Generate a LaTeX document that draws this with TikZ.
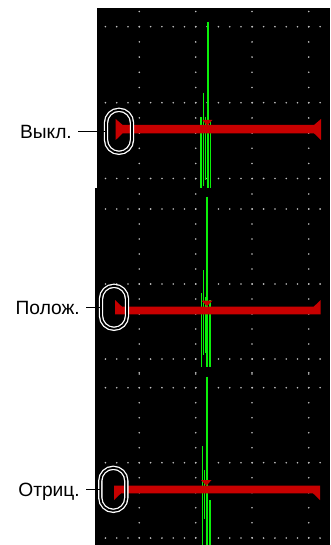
\documentclass[tikz,border=0pt]{standalone}
\usepackage{fontspec}
\setmainfont{Liberation Sans}
\definecolor{scopered}{RGB}{200,0,0}
\definecolor{scopegreen}{RGB}{10,240,10}
\definecolor{dotgray}{RGB}{190,190,190}
\begin{document}
\begin{tikzpicture}[x=1pt,y=-1pt,
  griddot/.style={fill=dotgray},
  trace/.style={draw=scopegreen,line width=1.1pt},
  maintrace/.style={draw=scopegreen,line width=2.1pt},
  gate/.style={fill=scopered},
  gatemark/.style={fill=scopered},
  stad/.style={draw=white,double=black,double distance=1.8pt,line width=1.3pt,
    minimum width=26pt,minimum height=43pt,rounded corners=13pt,inner sep=0pt},
  lbl/.style={font=\fontsize{19.2}{21}\selectfont,inner sep=0pt,anchor=east,
    text height=13.7pt,text depth=0pt},
  leader/.style={draw=black,line width=1.4pt,shorten <=6pt}]
\useasboundingbox (0,0) rectangle (330,545);
\fill[black] (97,8) rectangle (330,188);
\fill[black] (95,188) rectangle (330,545);
% ---- grid dots, panel 1
\foreach \ry in {26.7,102.7,178.5}{\foreach \k in {-3,...,16}{\fill[griddot] ({139.3+11.3*\k},\ry) circle (0.9pt);}}
\foreach \cx in {139.3,195.7,252,308.7}{\foreach \k in {-1,...,10}{\fill[griddot] (\cx,{26.7+15.2*\k}) circle (0.9pt);}}
% ---- panel 2
\foreach \ry in {209,284,359}{\foreach \k in {-3,...,16}{\fill[griddot] ({139.3+11.3*\k},\ry) circle (0.9pt);}}
\foreach \cx in {139.3,195.7,252,308.7}{\foreach \k in {-1,...,11}{\fill[griddot] (\cx,{209+15*\k}) circle (0.9pt);}}
% ---- panel 3
\foreach \ry in {387.7,462.7,538}{\foreach \k in {-3,...,16}{\fill[griddot] ({139.3+11.3*\k},\ry) circle (0.9pt);}}
\foreach \cx in {139.3,195.7,252,308.7}{\foreach \k in {-1,...,10}{\fill[griddot] (\cx,{387.7+15*\k}) circle (0.9pt);}}
% ---- green traces
\draw[maintrace] (207.7,21.7) -- (207.7,188);
\draw[trace] (203.3,92.7) -- (203.3,186);
\draw[trace] (201,117) -- (201,188);
\draw[trace] (205.2,117) -- (205.2,180);
\draw[trace] (210.5,120) -- (210.5,188);
\draw[maintrace] (207.3,196.7) -- (207.3,367);
\draw[trace] (203.3,270) -- (203.3,355);
\draw[trace] (201.2,293) -- (201.2,367);
\draw[trace] (205.2,297) -- (205.2,353);
\draw[trace] (210,300) -- (210,367);
\draw[maintrace] (207,376.7) -- (207,545);
\draw[trace] (202.3,446) -- (202.3,545);
\draw[trace] (204.7,470) -- (204.7,519);
\draw[trace] (210,500) -- (210,545);
% ---- red gates
\fill[gate] (115.7,119) -- (122.7,125) -- (314,125) -- (321,119) -- (321,140) -- (314,133.3) -- (122.7,133.3) -- (115.7,140) -- cycle;
\fill[gatemark] (202.3,120) -- (212.3,120) -- (207.3,125.5) -- cycle;
\fill[gate] (115,300) -- (122,306.7) -- (313.7,306.7) -- (320.7,300) -- (320.7,314.3) -- (115,314.3) -- cycle;
\fill[gatemark] (201.7,300.7) -- (212.3,300.7) -- (207,306.2) -- cycle;
\fill[gate] (114,485.7) -- (320,485.7) -- (320,500) -- (313,493.3) -- (121,493.3) -- (114,500) -- cycle;
\fill[gatemark] (201,480) -- (211.7,480) -- (206.3,485.5) -- cycle;
% ---- labels and callouts
\node[lbl] (l1) at (72,131.3) {Выкл.};
\node[lbl] (l2) at (80,307.3) {Полож.};
\node[lbl] (l3) at (80,489.3) {Отриц.};
\node[stad] (s1) at (119,131.3) {};
\node[stad] (s2) at (114,307.3) {};
\node[stad] (s3) at (113.3,489.3) {};
\draw[leader] (l1.east) -- (s1.west);
\draw[leader] (l2.east) -- (s2.west);
\draw[leader] (l3.east) -- (s3.west);
\end{tikzpicture}
\end{document}
